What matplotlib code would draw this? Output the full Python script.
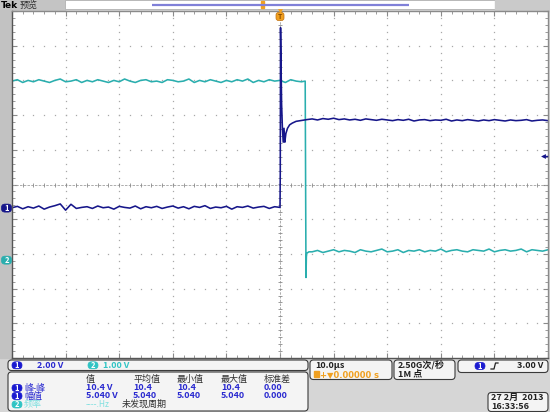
"""
Tek 示波器截图重绘 (CH1 / CH2 阶跃波形)
"""

import matplotlib.pyplot as plt
import numpy as np
from matplotlib.patches import FancyBboxPatch, Rectangle
from matplotlib.ticker import MultipleLocator

plt.rcParams['font.family'] = ['Noto Sans CJK SC', 'DejaVu Sans']

# ---- 波形数据 (时间 µs, 电压 V) ----
# CH1 低电平段: t = -50 .. 0, 每 1 µs
ch1_low = [0.02, 0.10, -0.04, 0.08, 0.00, 0.12, -0.06, 0.06, 0.14, 0.24,
           -0.12, 0.22, -0.02, 0.04, 0.08, -0.02, 0.12, 0.02, 0.06, -0.06,
           0.10, 0.04, 0.00, 0.12, -0.04, 0.08, 0.02, 0.10, -0.02, 0.06,
           0.12, 0.00, 0.08, -0.04, 0.10, 0.04, 0.14, -0.02, 0.06, 0.02,
           0.10, -0.06, 0.08, 0.04, 0.12, 0.00, 0.06, 0.10, -0.02, 0.08, 0.04]
# CH1 上升沿 + 过冲振铃
ch1_edge_t = [0.05, 0.1, 0.2, 0.3, 0.45, 0.6, 0.75, 0.9, 1.1, 1.4, 1.8, 2.3, 3.0, 4.0]
ch1_edge_v = [2.0, 10.4, 8.2, 6.0, 4.6, 3.8, 4.6, 3.8, 4.3, 4.6, 4.8, 4.9, 5.0, 5.05]
# CH1 高电平段: t = 5 .. 50
ch1_high = [5.10, 5.14, 5.08, 5.16, 5.12, 5.18, 5.10, 5.14, 5.08, 5.12,
            5.06, 5.14, 5.10, 5.06, 5.12, 5.08, 5.04, 5.10, 5.06, 5.12,
            5.02, 5.08, 5.10, 5.04, 5.08, 5.06, 5.12, 5.02, 5.08, 5.04,
            5.10, 5.06, 5.02, 5.08, 5.04, 5.10, 5.06, 5.02, 5.08, 5.04,
            5.06, 5.10, 5.02, 5.06, 5.08, 5.04]

# CH2 高电平段: t = -50 .. 4
ch2_high = [5.16, 5.20, 5.12, 5.18, 5.14, 5.20, 5.16, 5.12, 5.18, 5.22,
            5.14, 5.16, 5.20, 5.12, 5.18, 5.14, 5.20, 5.16, 5.12, 5.18,
            5.14, 5.22, 5.16, 5.12, 5.18, 5.20, 5.14, 5.16, 5.12, 5.20,
            5.18, 5.14, 5.16, 5.22, 5.12, 5.18, 5.14, 5.20, 5.16, 5.12,
            5.18, 5.14, 5.20, 5.16, 5.22, 5.12, 5.18, 5.14, 5.20, 5.16,
            5.18, 5.12, 5.20, 5.16, 5.14]
ch2_edge_t = [4.7, 4.85, 4.92, 5.0, 5.4]
ch2_edge_v = [5.16, -0.50, 0.10, 0.20, 0.24]
# CH2 低电平段: t = 6 .. 50
ch2_low = [0.24, 0.28, 0.22, 0.26, 0.30, 0.24, 0.28, 0.26, 0.22, 0.30,
           0.26, 0.24, 0.28, 0.32, 0.24, 0.26, 0.30, 0.22, 0.28, 0.26,
           0.30, 0.24, 0.28, 0.26, 0.32, 0.24, 0.28, 0.30, 0.26, 0.24,
           0.30, 0.28, 0.26, 0.32, 0.24, 0.28, 0.30, 0.26, 0.28, 0.32,
           0.24, 0.30, 0.28, 0.26, 0.30]

ch1_scale, ch1_pos = 2.00, -0.68   # V/div, 零点位置 (div)
ch2_scale, ch2_pos = 1.00, -2.18
trig_level = 3.00

meas_header = ["值", "平均值", "最小值", "最大值", "标准差"]
meas_pkpk = ["10.4 V", "10.4", "10.4", "10.4", "0.00"]
meas_amp = ["5.040 V", "5.040", "5.040", "5.040", "0.000"]

C1 = "#16168a"
C2 = "#2aaeae"
C1_TXT = "#2a2ad0"
C2_TXT = "#30c4c4"


def build(low_start, low, edge_t, edge_v, high_start, high):
    t = np.concatenate([low_start + np.arange(len(low)), edge_t,
                        high_start + np.arange(len(high))])
    v = np.concatenate([low, edge_v, high])
    return t, v


t1, v1 = build(-50, ch1_low, ch1_edge_t, ch1_edge_v, 5, ch1_high)
t2, v2 = build(-50, ch2_high, ch2_edge_t, ch2_edge_v, 6, ch2_low)

fig = plt.figure(figsize=(5.5, 4.12), dpi=100)
fig.patch.set_facecolor("#d6d6d6")

# 背景 UI 层 (像素坐标)
bg = fig.add_axes([0, 0, 1, 1], zorder=0)
bg.set_xlim(0, 550)
bg.set_ylim(412, 0)
bg.axis("off")

# 前景 UI 层
fg = fig.add_axes([0, 0, 1, 1], zorder=3)
fg.set_xlim(0, 550)
fg.set_ylim(412, 0)
fg.axis("off")
fg.patch.set_alpha(0)


def rbox(ax, x0, y0, x1, y1, fc="#f2f2f2", ec="#3a3a3a", r=3.5, lw=0.8):
    ax.add_patch(FancyBboxPatch((x0, y0), x1 - x0, y1 - y0,
                                boxstyle=f"round,pad=0,rounding_size={r}",
                                fc=fc, ec=ec, lw=lw))


def badge(ax, x, y, label, fc, w=9, h=7):
    rbox(ax, x - w / 2, y - h / 2, x + w / 2, y + h / 2, fc=fc, ec=fc, r=3.4, lw=0.5)
    ax.text(x, y + 0.3, label, color="white", fontsize=5.5, fontweight="bold",
            ha="center", va="center")


# 顶栏
bg.add_patch(Rectangle((0, 0), 65, 10, color="#c4c4c4"))
bg.add_patch(Rectangle((65, 0), 430, 9, fc="white", ec="#b0b0b0", lw=0.6))
bg.add_patch(Rectangle((495, 0), 55, 10, color="#cacaca"))
bg.text(0.5, 5, "Tek", fontsize=6.5, fontweight="bold", va="center", ha="left", family="DejaVu Sans")
bg.text(20, 5, "预览", fontsize=6.5, va="center", ha="left", color="#303030")
bg.plot([152, 409], [4.5, 4.5], color="#8080d8", lw=1.6, solid_capstyle="butt")
bg.add_patch(Rectangle((260.5, 1), 3, 7, color="#f0a020"))

# 左侧条
bg.add_patch(Rectangle((0, 10), 12, 348, color="#c2c2c2"))

# ---- 网格 ----
ax = fig.add_axes([12 / 550, (412 - 358) / 412, 536 / 550, 347 / 412], zorder=1)
ax.set_facecolor("white")
ax.set_xlim(-50, 50)
ax.set_ylim(-5, 5)
for s in ax.spines.values():
    s.set_color("#8a8a8a")
    s.set_linewidth(1.0)
ax.spines["left"].set_color("#555555")
ax.spines["bottom"].set_color("#555555")
ax.xaxis.set_major_locator(MultipleLocator(10))
ax.xaxis.set_minor_locator(MultipleLocator(2))
ax.yaxis.set_major_locator(MultipleLocator(1))
ax.yaxis.set_minor_locator(MultipleLocator(0.2))
ax.tick_params(which="both", direction="in", top=True, right=True,
               labelbottom=False, labelleft=False, color="#8a8a8a")
ax.tick_params(which="major", length=3.5, width=0.8)
ax.tick_params(which="minor", length=2, width=0.6)

gx = np.arange(-50, 50.1, 2)
gy = np.arange(-5, 5.01, 0.2)
for xv in range(-40, 50, 10):
    if xv == 0:
        continue
    ax.plot(np.full_like(gy, xv), gy, ls="none", marker="s", ms=0.9,
            mew=0, color="#a8a8a8")
for yv in range(-4, 5):
    if yv == 0:
        continue
    ax.plot(gx, np.full_like(gx, yv), ls="none", marker="s", ms=0.9,
            mew=0, color="#a8a8a8")
ax.axhline(0, color="#a0a0a0", lw=0.6, ls=(0, (3, 1.5)))
ax.axvline(0, color="#a0a0a0", lw=0.6, ls=(0, (3, 1.5)))
ax.plot(gx, np.zeros_like(gx), ls="none", marker="|", ms=3.5, mew=0.6, color="#8a8a8a")
ax.plot(np.zeros_like(gy), gy, ls="none", marker="_", ms=3.5, mew=0.6, color="#8a8a8a")

# ---- 波形 ----
ax.plot(t2, np.array(v2) / ch2_scale + ch2_pos, color=C2, lw=1.15)
ax.plot(t1, np.array(v1) / ch1_scale + ch1_pos, color=C1, lw=1.15)

# 触发位置标记
fg.add_patch(FancyBboxPatch((276, 12.5), 8, 8, boxstyle="round,pad=0,rounding_size=2.5",
                            fc="#f0a020", ec="#c07010", lw=0.5))
fg.text(280, 16.8, "T", fontsize=5, color="#8a4a00", ha="center", va="center", fontweight="bold")
fg.plot([280], [10.5], marker="v", ms=3.5, color="#f0a020", mew=0)

# 通道零点标记
y1_px = 184.5 - ch1_pos * 34.7
y2_px = 184.5 - ch2_pos * 34.7
badge(fg, 6.5, y1_px, "1", C1, w=10, h=8)
badge(fg, 6.5, y2_px, "2", C2, w=10, h=8)

# 触发电平标记
yt_px = 184.5 - (trig_level / ch1_scale + ch1_pos) * 34.7
fg.plot([542.5], [yt_px], marker="<", ms=3.5, color=C1, mew=0)
fg.plot([543, 547], [yt_px, yt_px], color=C1, lw=1.0)

# ---- 底部信息栏 ----
rbox(bg, 8, 360, 308, 370.5, fc="#f4f4f4")
badge(bg, 17, 365.3, "1", "#1a1ad0", w=10, h=7)
bg.text(37, 365.5, "2.00 V", color=C1_TXT, fontsize=6.5, fontweight="bold", va="center")
badge(bg, 93, 365.3, "2", C2_TXT, w=10, h=7)
bg.text(103, 365.5, "1.00 V", color=C2_TXT, fontsize=6.5, fontweight="bold", va="center")

rbox(bg, 8, 372, 308, 411, fc="#f4f4f4")
cols = [86, 133, 177, 221, 264]
for x, h in zip(cols, meas_header):
    bg.text(x, 379, h, fontsize=6.5, color="#303030", va="center")
badge(bg, 17, 388, "1", "#1a1ad0", w=10, h=7)
bg.text(24, 388, "峰-峰", fontsize=6.5, color=C1_TXT, va="center")
for x, s in zip(cols, meas_pkpk):
    bg.text(x, 388, s, fontsize=6.5, color=C1_TXT, fontweight="bold", va="center")
badge(bg, 17, 396, "1", "#1a1ad0", w=10, h=7)
bg.text(24, 396, "幅值", fontsize=6.5, color=C1_TXT, va="center")
for x, s in zip(cols, meas_amp):
    bg.text(x, 396, s, fontsize=6.5, color=C1_TXT, fontweight="bold", va="center")
badge(bg, 17, 404.5, "2", C2_TXT, w=10, h=7)
bg.text(24, 404.5, "频率", fontsize=6.5, color="#80e0e0", va="center")
bg.text(86, 404.5, "----.Hz", fontsize=6, color="#80e0e0", va="center")
bg.text(122, 404.5, "未发现周期", fontsize=6.5, color="#303030", va="center")

rbox(bg, 310, 360, 392, 379.5, fc="#f4f4f4")
bg.text(315, 365, "10.0µs", fontsize=6.5, fontweight="bold", color="#202020", va="center")
bg.add_patch(Rectangle((314, 371), 5, 6, color="#f0a020"))
bg.text(320, 374.3, "+▼0.00000 s", fontsize=6, color="#f0a020", fontweight="bold",
        va="center", family=["DejaVu Sans"])

rbox(bg, 394, 360, 455, 379.5, fc="#f4f4f4")
bg.text(398, 365, "2.50G次/秒", fontsize=6.5, color="#202020", fontweight="bold", va="center")
bg.text(398, 374.3, "1M 点", fontsize=6.5, color="#202020", fontweight="bold", va="center")

rbox(bg, 458, 360, 548, 372.5, fc="#f4f4f4")
badge(bg, 480, 366, "1", "#1a1ad0", w=10, h=7)
bg.plot([491, 494, 495.5, 498], [369, 369, 363, 363], color="#202020", lw=0.9)
bg.text(543, 366, "3.00 V", fontsize=6.5, color="#202020", fontweight="bold",
        va="center", ha="right")

rbox(bg, 488, 392.5, 548, 411.5, fc="#f4f4f4")
bg.text(491, 397.5, "27 2月  2013", fontsize=6.5, color="#202020", fontweight="bold", va="center")
bg.text(491, 406.5, "16:33:56", fontsize=6.5, color="#202020", fontweight="bold", va="center")

plt.savefig("out.png", dpi=100)
